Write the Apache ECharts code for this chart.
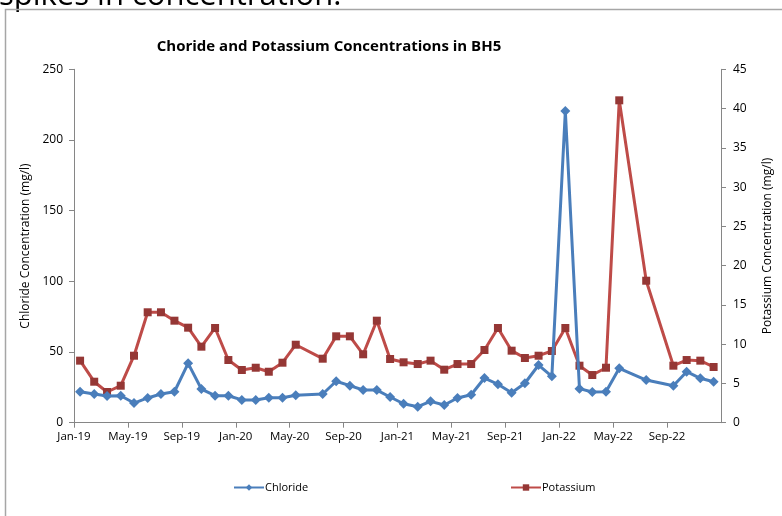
<!DOCTYPE html>
<html>
<head>
<meta charset="utf-8">
<script src="https://cdn.jsdelivr.net/npm/echarts@6/dist/echarts.min.js"></script>
<style>
  html, body { margin: 0; padding: 0; background: #fff; }
  #chart { width: 782px; height: 516px; }
</style>
</head>
<body>
<div id="chart"></div>
<script>
// Sampling dates (monthly, mid-month; June 2020, June 2022 and August 2022 not sampled)
const sampleDates = [
  '2019-01-15','2019-02-15','2019-03-15','2019-04-15','2019-05-15','2019-06-15',
  '2019-07-15','2019-08-15','2019-09-15','2019-10-15','2019-11-15','2019-12-15',
  '2020-01-15','2020-02-15','2020-03-15','2020-04-15','2020-05-15',
  '2020-07-15','2020-08-15','2020-09-15','2020-10-15','2020-11-15','2020-12-15',
  '2021-01-15','2021-02-15','2021-03-15','2021-04-15','2021-05-15','2021-06-15',
  '2021-07-15','2021-08-15','2021-09-15','2021-10-15','2021-11-15','2021-12-15',
  '2022-01-15','2022-02-15','2022-03-15','2022-04-15','2022-05-15',
  '2022-07-15','2022-09-15','2022-10-15','2022-11-15','2022-12-15'
];

// Chloride concentration (mg/l), left axis
const chloride = [
  21.9, 20.3, 18.9, 19.1, 13.9, 17.5, 20.3, 21.9, 42.0, 23.8, 19.1, 19.1,
  16.1, 16.1, 17.7, 17.7, 19.4,
  20.3, 29.3, 26.2, 23.1, 23.1, 18.2,
  13.4, 11.3, 15.1, 12.5, 17.5, 19.8, 31.6, 27.2, 21.2, 27.9, 40.8, 32.8,
  220.5, 24.1, 21.7, 21.9, 38.5,
  30.2, 26.2, 36.1, 31.4, 29.0
];

// Potassium concentration (mg/l), right axis
const potassium = [
  7.9, 5.22, 3.91, 4.71, 8.53, 14.06, 14.06, 12.99, 12.1, 9.68, 12.06, 7.98,
  6.71, 7.0, 6.49, 7.64, 9.93,
  8.15, 11.0, 11.0, 8.71, 12.99, 8.11,
  7.69, 7.47, 7.9, 6.75, 7.47, 7.47, 9.26, 12.06, 9.17, 8.24, 8.53, 9.13,
  12.06, 7.26, 6.07, 7.0, 41.05,
  18.08, 7.26, 7.98, 7.9, 7.09
];

// Axis ticks every four months from Jan 2019
const tickMonths = ['Jan', 'May', 'Sep'];
const axisStartYear = 2019;

// Convert an ISO date into fractional months since Jan 2019
function monthIndex(iso) {
  const [y, m, d] = iso.split('-').map(Number);
  const days = new Date(Date.UTC(y, m, 0)).getUTCDate();
  return (y - axisStartYear) * 12 + (m - 1) + (d - 1) / days;
}

function tickLabel(v) {
  const idx = Math.round(v);
  if (idx % 4 !== 0 || idx >= 48) return '';
  const year = axisStartYear + Math.floor(idx / 12);
  const name = tickMonths[(idx % 12) / 4];
  return name + '-' + String(year).slice(2);
}

const xs = sampleDates.map(monthIndex);
const chlorideData = xs.map((x, i) => [x, chloride[i]]);
const potassiumData = xs.map((x, i) => [x, potassium[i]]);

const FONT = '"Open Sans", "Liberation Sans", sans-serif';
const axisGray = '#868686';

const chart = echarts.init(document.getElementById('chart'), null, { renderer: 'canvas' });

chart.setOption({
  animation: false,
  backgroundColor: '#ffffff',
  textStyle: { fontFamily: FONT, color: '#000' },
  title: {
    text: 'Choride and Potassium Concentrations in BH5',
    left: 324,
    textAlign: 'center',
    top: 34,
    textStyle: { fontFamily: FONT, fontSize: 15, fontWeight: 'bold', color: '#000' }
  },
  graphic: [
    {
      type: 'text',
      left: -1,
      top: -19,
      style: { text: 'spikes in concentration.', font: '31px ' + FONT, fill: '#000' },
      silent: true
    },
    {
      type: 'polyline',
      shape: { points: [[5.5, 530], [5.5, 9.5], [800, 9.5]] },
      style: { stroke: '#a6a6a6', lineWidth: 1.5, fill: null },
      silent: true
    }
  ],
  grid: { left: 74, right: 47, top: 69.3, bottom: 93.3, containLabel: false },
  legend: [
    {
      data: ['Chloride'],
      left: 228, top: 477,
      itemWidth: 30, itemHeight: 8, itemGap: 0,
      textStyle: { fontFamily: FONT, fontSize: 11, color: '#000', padding: [0, 0, 0, -4] }
    },
    {
      data: ['Potassium'],
      left: 505, top: 477,
      itemWidth: 30, itemHeight: 8, itemGap: 0,
      textStyle: { fontFamily: FONT, fontSize: 11, color: '#000', padding: [0, 0, 0, -4] }
    }
  ],
  xAxis: {
    type: 'value',
    min: 0, max: 48, interval: 4,
    splitLine: { show: false },
    axisLine: { show: true, onZero: false, lineStyle: { color: axisGray, width: 1 } },
    axisTick: { show: true, length: 5, lineStyle: { color: axisGray } },
    axisLabel: {
      formatter: tickLabel,
      showMaxLabel: false,
      fontFamily: FONT, fontSize: 11.5, color: '#000', margin: 8
    }
  },
  yAxis: [
    {
      type: 'value',
      min: 0, max: 250, interval: 50,
      name: 'Chloride Concentration (mg/l)',
      nameLocation: 'middle',
      nameRotate: 90,
      nameGap: 38,
      nameTextStyle: { fontFamily: FONT, fontSize: 12, color: '#000' },
      splitLine: { show: false },
      axisLine: { show: true, lineStyle: { color: axisGray } },
      axisTick: { show: true, length: 5, lineStyle: { color: axisGray } },
      axisLabel: { fontFamily: FONT, fontSize: 12, color: '#000', margin: 11 }
    },
    {
      type: 'value',
      min: 0, max: 45, interval: 5,
      position: 'right',
      name: 'Potassium Concentration (mg/l)',
      nameLocation: 'middle',
      nameRotate: 90,
      nameGap: 41,
      nameTextStyle: { fontFamily: FONT, fontSize: 12, color: '#000' },
      splitLine: { show: false },
      axisLine: { show: true, lineStyle: { color: axisGray } },
      axisTick: { show: true, length: 5, lineStyle: { color: axisGray } },
      axisLabel: { fontFamily: FONT, fontSize: 12, color: '#000', margin: 12 }
    }
  ],
  series: [
    {
      name: 'Chloride',
      type: 'line',
      yAxisIndex: 0,
      data: chlorideData,
      symbol: 'diamond',
      symbolSize: 10,
      lineStyle: { color: '#4a7ebb', width: 3 },
      itemStyle: { color: '#4a7ebb', borderColor: '#4a7ebb', borderWidth: 0 },
      z: 3
    },
    {
      name: 'Potassium',
      type: 'line',
      yAxisIndex: 1,
      data: potassiumData,
      symbol: 'rect',
      symbolSize: 8,
      lineStyle: { color: '#be4b48', width: 3 },
      itemStyle: { color: '#953735', borderColor: '#953735', borderWidth: 0 },
      z: 2
    }
  ]
});
</script>
</body>
</html>
